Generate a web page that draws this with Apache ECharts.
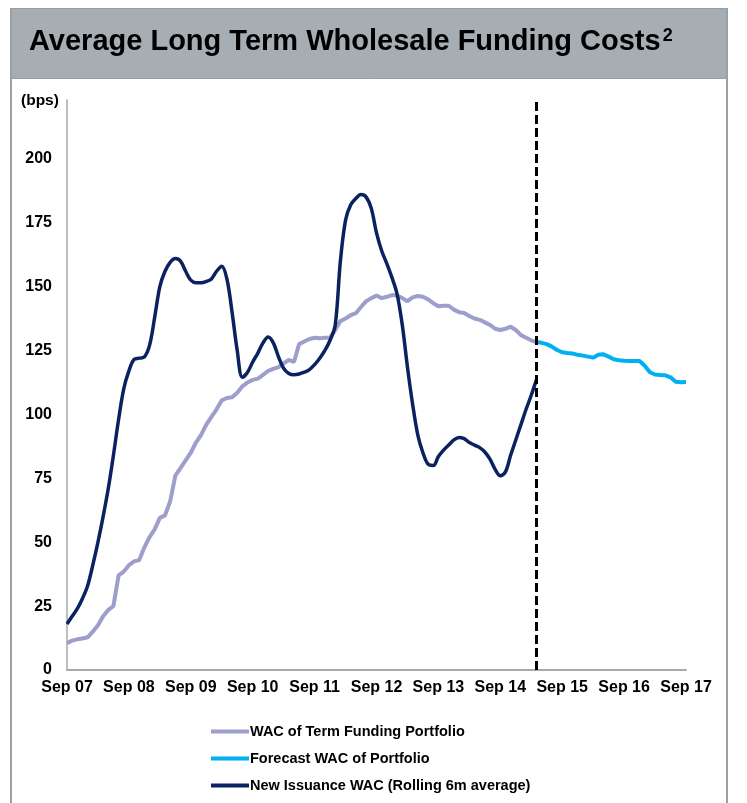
<!DOCTYPE html>
<html>
<head>
<meta charset="utf-8">
<script src="https://cdn.jsdelivr.net/npm/echarts@6/dist/echarts.min.js"></script>
<style>
html,body{margin:0;padding:0;background:#fff;}
#chart{width:747px;height:803px;}
</style>
</head>
<body>
<div id="chart"></div>
<script>
// x tick labels (one every 12 months, starting Sep 2007)
var tickLabels = ['Sep 07','Sep 08','Sep 09','Sep 10','Sep 11','Sep 12','Sep 13','Sep 14','Sep 15','Sep 16','Sep 17'];
var yTicks = [0, 25, 50, 75, 100, 125, 150, 175, 200];

// Monthly values, month 0 = Sep 07
var wacPortfolio = [
  10.5, 11.5, 12, 12.3, 12.8, 15, 17.5, 21, 23.5, 25,
  37, 38.5, 41, 42.5, 43, 48, 52, 55, 59.5, 60.5,
  66, 76, 79, 82, 85, 89, 92, 96, 99, 102,
  105.5, 106.4, 106.7, 108.5, 111, 112.5, 113.5, 114, 115.5, 117,
  117.8, 118.5, 120, 121.3, 120.5, 127.5, 128.5, 129.5, 130, 129.8,
  130, 130, 133, 136.5, 137.5, 138.8, 139.6, 142, 144.3, 145.5,
  146.5, 145.5, 146, 146.7, 146.5, 145.5, 144.3, 145.8, 146.3, 146,
  145, 143.5, 142.3, 142.5, 142.5, 141, 140, 139.7, 138.5, 137.5,
  137, 136, 135, 133.5, 133, 133.5, 134.3, 133, 131, 130,
  129, 128.3
];

// Forecast starts at month 91
var forecastStart = 91;
var forecastWac = [
  128.3, 128, 127.5, 126.5, 125.2, 124.3, 124, 123.8, 123.3, 123,
  122.6, 122.2, 123.3, 123.5, 122.6, 121.6, 121.2, 121, 120.9, 120.9,
  120.9, 119, 116.5, 115.6, 115.4, 115.3, 114.5, 112.8, 112.6, 112.7
];

var newIssuance = [
  18, 21, 24, 28, 33, 41, 50, 60, 71, 84,
  98, 110, 117, 121.5, 122, 122.5, 127, 138, 150, 156,
  159.5, 161, 160, 156, 152.5, 151.5, 151.5, 152, 153, 156,
  158, 153, 140, 125, 114.5, 116.5, 120.5, 124, 128, 130.3,
  128, 122.5, 118, 116, 115.5, 115.8, 116.5, 117.5, 119.5, 122,
  125, 129, 135, 160, 176, 182, 184.5, 186, 185, 180.5,
  171, 164, 159, 153.5, 147, 135, 118.5, 104, 92, 85,
  80.5, 80, 83.5, 86, 88, 90, 91, 90.5, 89, 88,
  87, 85.3, 82.5, 78.5, 76, 77.5, 84, 90, 96, 102,
  107.5, 113.5
];

var dividerMonth = 91;

var seriesNames = ['WAC of Term Funding Portfolio', 'Forecast WAC of Portfolio', 'New Issuance WAC (Rolling 6m average)'];
var seriesColors = ['#9e9ecc', '#00b0f0', '#0b2260'];

function pairs(arr, start) {
  return arr.map(function (v, i) { return [start + i, v]; });
}

var FONT = '"Liberation Sans", Arial, Helvetica, sans-serif';
var chart = echarts.init(document.getElementById('chart'), null, {renderer: 'canvas'});

chart.setOption({
  backgroundColor: '#ffffff',
  animation: false,
  textStyle: {fontFamily: FONT},
  graphic: [
    {type: 'rect', shape: {x: 10.5, y: 8.5, width: 716, height: 70}, style: {fill: '#a6aeb4', stroke: '#979ea3', lineWidth: 1}, z: 0},
    {type: 'line', shape: {x1: 11, y1: 8, x2: 11, y2: 803}, style: {stroke: '#9aa1a6', lineWidth: 2}, z: 0},
    {type: 'line', shape: {x1: 727, y1: 8, x2: 727, y2: 803}, style: {stroke: '#9aa1a6', lineWidth: 2}, z: 0},
    {type: 'text', left: 21, top: 93, style: {text: '(bps)', font: 'bold 15.5px ' + FONT, fill: '#000'}}
  ],
  title: {
    left: 24,
    top: 22,
    text: '{a|Average Long Term Wholesale Funding Costs}{s|2}',
    textStyle: {
      rich: {
        a: {fontSize: 29, fontWeight: 'bold', fontFamily: FONT, color: '#000'},
        s: {fontSize: 18, fontWeight: 'bold', fontFamily: FONT, color: '#000', verticalAlign: 'top', padding: [0, 0, 12, 2]}
      }
    }
  },
  legend: {
    orient: 'vertical',
    left: 206,
    top: 719,
    itemWidth: 38,
    itemHeight: 4,
    itemGap: 12,
    icon: 'rect',
    data: seriesNames,
    textStyle: {fontSize: 14.5, fontWeight: 'bold', color: '#000', fontFamily: FONT, padding: [0, 0, 0, -4]}
  },
  grid: {left: 67, right: 61, top: 100, bottom: 133, containLabel: false},
  xAxis: {
    type: 'value',
    min: 0,
    max: 120,
    interval: 12,
    axisLine: {show: true, lineStyle: {color: '#a3aab0', width: 2}},
    axisTick: {show: false},
    splitLine: {show: false},
    axisLabel: {
      fontSize: 16,
      fontWeight: 'bold',
      color: '#000',
      margin: 10,
      fontFamily: FONT,
      formatter: function (v) { return tickLabels[Math.round(v / 12)] || ''; }
    }
  },
  yAxis: {
    type: 'value',
    min: 0,
    max: 223,
    interval: 25,
    axisLine: {show: true, lineStyle: {color: '#a3aab0', width: 1.5}},
    axisTick: {show: false},
    splitLine: {show: false},
    axisLabel: {
      fontSize: 16,
      fontWeight: 'bold',
      color: '#000',
      margin: 15,
      fontFamily: FONT,
      showMaxLabel: false,
      formatter: function (v) { return yTicks.indexOf(v) >= 0 ? String(v) : ''; }
    }
  },
  series: [
    {
      name: seriesNames[0],
      type: 'line',
      data: pairs(wacPortfolio, 0),
      showSymbol: false,
      lineStyle: {color: seriesColors[0], width: 4},
      itemStyle: {color: seriesColors[0]},
      z: 2
    },
    {
      name: seriesNames[1],
      type: 'line',
      data: pairs(forecastWac, forecastStart),
      showSymbol: false,
      lineStyle: {color: seriesColors[1], width: 4},
      itemStyle: {color: seriesColors[1]},
      z: 2
    },
    {
      name: seriesNames[2],
      type: 'line',
      data: pairs(newIssuance, 0),
      showSymbol: false,
      smooth: 0.35,
      lineStyle: {color: seriesColors[2], width: 3.5},
      itemStyle: {color: seriesColors[2]},
      z: 3,
      markLine: {
        silent: true,
        symbol: ['none', 'none'],
        label: {show: false},
        lineStyle: {color: '#000', type: [9, 4], width: 3},
        data: [{xAxis: dividerMonth}]
      }
    }
  ]
});
</script>
</body>
</html>
